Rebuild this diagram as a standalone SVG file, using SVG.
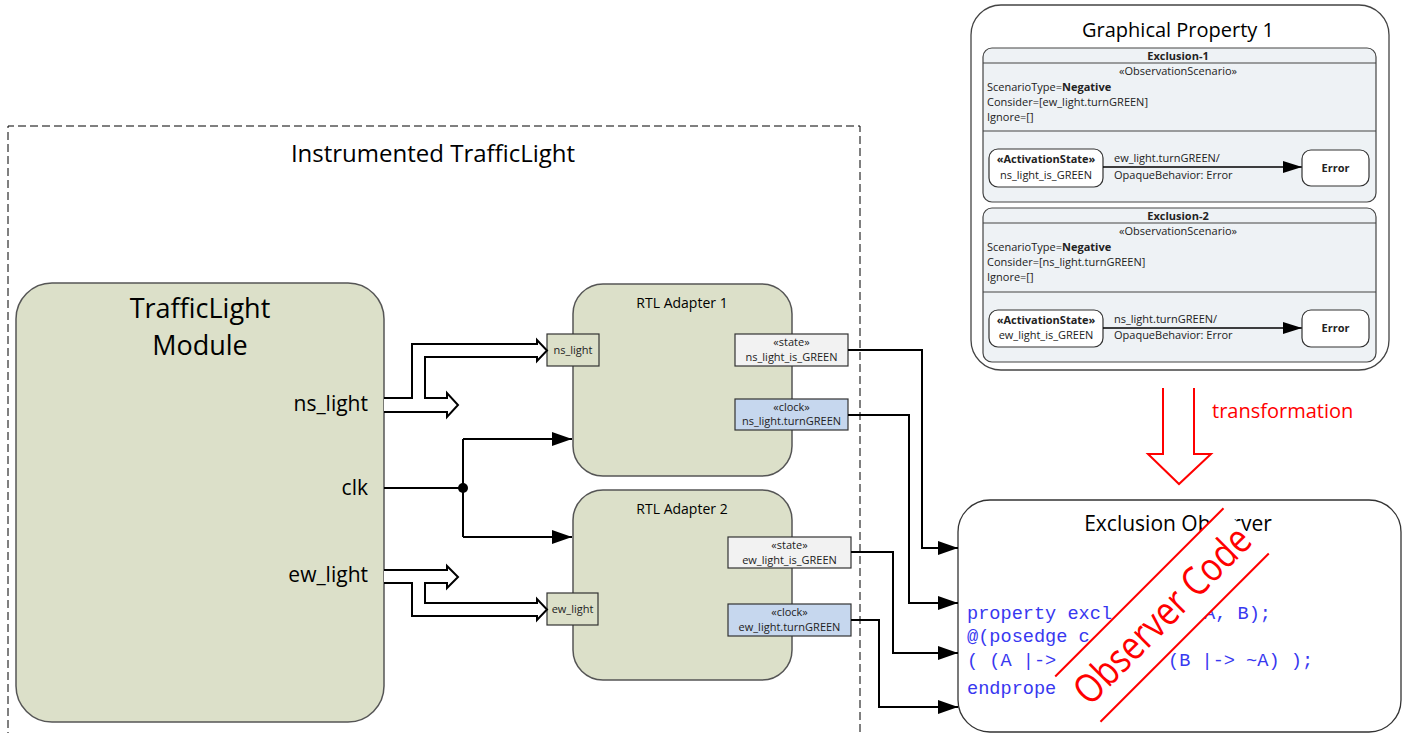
<svg xmlns="http://www.w3.org/2000/svg" width="1406" height="733" viewBox="0 0 1406 733">
<style>
text{font-family:"Open Sans","Noto Sans","DejaVu Sans",sans-serif;fill:#000}
.blk{fill:#DCE0C9;stroke:#555;stroke-width:1.5}
.port{stroke:#333;stroke-width:1.2}
.ps{font-size:11px;text-anchor:middle;fill:#222}
.wire{fill:none;stroke:#000;stroke-width:2}
.bus{fill:#fff;stroke:#000;stroke-width:2;stroke-linejoin:miter}
.sm{font-size:11px;fill:#222}
.code{font-family:"Liberation Mono","DejaVu Sans Mono",monospace;font-size:18.6px;fill:#3838F0}
.red{stroke:#F00;stroke-width:2;fill:none}
</style>
<defs>
<marker id="ah" markerUnits="userSpaceOnUse" markerWidth="22" markerHeight="16" refX="20" refY="7" orient="auto">
<path d="M0,0 L20,7 L0,14 z" fill="#000"/>
</marker>
<marker id="ahs" markerUnits="userSpaceOnUse" markerWidth="20" markerHeight="14" refX="19" refY="6" orient="auto">
<path d="M0,0 L19,6 L0,12 z" fill="#000"/>
</marker>
</defs>

<g id="instrumented">
<path d="M8,740 V126 H860 V740" fill="none" stroke="#000" stroke-width="1" stroke-dasharray="8,4"/>
<text x="433" y="162" font-size="24" text-anchor="middle">Instrumented TrafficLight</text>
</g>

<g id="module">
<rect class="blk" x="16" y="283" width="368" height="439" rx="36"/>
<text x="200" y="318" font-size="27" text-anchor="middle">TrafficLight</text>
<text x="200" y="355" font-size="27" text-anchor="middle">Module</text>
<text x="368" y="411" font-size="21" text-anchor="end">ns_light</text>
<text x="368" y="495" font-size="21" text-anchor="end">clk</text>
<text x="368" y="582" font-size="21" text-anchor="end">ew_light</text>
</g>

<g id="adapter1">
<rect class="blk" x="573" y="284" width="219" height="192" rx="30"/>
<text x="682" y="308" font-size="14" text-anchor="middle" fill="#333">RTL Adapter 1</text>
<rect class="port" x="547" y="334" width="52" height="32" fill="#DCE0C9"/>
<text class="ps" x="573" y="354">ns_light</text>
<rect class="port" x="735" y="334" width="113" height="32" fill="#F2F2F2"/>
<text class="ps" x="791.5" y="346">«state»</text>
<text class="ps" x="791.5" y="361">ns_light_is_GREEN</text>
<rect class="port" x="735" y="399" width="113" height="31" fill="#C6D7EE"/>
<text class="ps" x="791.5" y="411">«clock»</text>
<text class="ps" x="791.5" y="425">ns_light.turnGREEN</text>
</g>

<g id="adapter2">
<rect class="blk" x="573" y="490" width="219" height="190" rx="30"/>
<text x="682" y="514" font-size="14" text-anchor="middle" fill="#333">RTL Adapter 2</text>
<rect class="port" x="547" y="593" width="51" height="32" fill="#DCE0C9"/>
<text class="ps" x="572.5" y="613">ew_light</text>
<rect class="port" x="728" y="537" width="123" height="31" fill="#F2F2F2"/>
<text class="ps" x="789.5" y="549">«state»</text>
<text class="ps" x="789.5" y="564">ew_light_is_GREEN</text>
<rect class="port" x="728" y="604" width="123" height="32" fill="#C6D7EE"/>
<text class="ps" x="789.5" y="616">«clock»</text>
<text class="ps" x="789.5" y="631">ew_light.turnGREEN</text>
</g>

<g id="graphical-property">
<rect x="971" y="5" width="418" height="365" rx="30" fill="#fff" stroke="#444" stroke-width="1.3"/>
<text x="1178" y="37" font-size="20" text-anchor="middle">Graphical Property 1</text>
<g id="exclusion1">
<rect x="983" y="48" width="393" height="154" rx="9" fill="#EEF2F5" stroke="#444" stroke-width="1.2"/>
<line x1="983" y1="63" x2="1376" y2="63" stroke="#444" stroke-width="1.2"/>
<line x1="983" y1="131" x2="1376" y2="131" stroke="#444" stroke-width="1.2"/>
<text class="sm" x="1178" y="60" text-anchor="middle" font-weight="bold">Exclusion-1</text>
<text class="sm" x="1178" y="75" text-anchor="middle">«ObservationScenario»</text>
<text class="sm" x="987" y="91">ScenarioType=<tspan font-weight="bold">Negative</tspan></text>
<text class="sm" x="987" y="106">Consider=[ew_light.turnGREEN]</text>
<text class="sm" x="987" y="121">Ignore=[]</text>
<rect x="989" y="149" width="114" height="38" rx="9" fill="#fff" stroke="#333" stroke-width="1.2"/>
<text class="sm" x="1046" y="163" text-anchor="middle" font-weight="bold">«ActivationState»</text>
<text class="sm" x="1046" y="179" text-anchor="middle">ns_light_is_GREEN</text>
<line x1="1103" y1="167" x2="1302" y2="167" stroke="#000" stroke-width="1.5" marker-end="url(#ahs)"/>
<text class="sm" x="1114" y="162">ew_light.turnGREEN/</text>
<text class="sm" x="1114" y="179">OpaqueBehavior: Error</text>
<rect x="1302" y="150" width="67" height="36" rx="9" fill="#fff" stroke="#333" stroke-width="1.2"/>
<text class="sm" x="1335.5" y="172" text-anchor="middle" font-weight="bold">Error</text>
</g>
<g id="exclusion2">
<rect x="983" y="208" width="393" height="154" rx="9" fill="#EEF2F5" stroke="#444" stroke-width="1.2"/>
<line x1="983" y1="223" x2="1376" y2="223" stroke="#444" stroke-width="1.2"/>
<line x1="983" y1="292" x2="1376" y2="292" stroke="#444" stroke-width="1.2"/>
<text class="sm" x="1178" y="220" text-anchor="middle" font-weight="bold">Exclusion-2</text>
<text class="sm" x="1178" y="235" text-anchor="middle">«ObservationScenario»</text>
<text class="sm" x="987" y="251">ScenarioType=<tspan font-weight="bold">Negative</tspan></text>
<text class="sm" x="987" y="266">Consider=[ns_light.turnGREEN]</text>
<text class="sm" x="987" y="281">Ignore=[]</text>
<rect x="989" y="310" width="114" height="37" rx="9" fill="#fff" stroke="#333" stroke-width="1.2"/>
<text class="sm" x="1046" y="324" text-anchor="middle" font-weight="bold">«ActivationState»</text>
<text class="sm" x="1046" y="339" text-anchor="middle">ew_light_is_GREEN</text>
<line x1="1103" y1="328" x2="1302" y2="328" stroke="#000" stroke-width="1.5" marker-end="url(#ahs)"/>
<text class="sm" x="1114" y="323">ns_light.turnGREEN/</text>
<text class="sm" x="1114" y="339">OpaqueBehavior: Error</text>
<rect x="1302" y="310" width="67" height="37" rx="9" fill="#fff" stroke="#333" stroke-width="1.2"/>
<text class="sm" x="1335.5" y="332" text-anchor="middle" font-weight="bold">Error</text>
</g>
</g>

<g id="transformation">
<path class="red" d="M1163,388 V454 H1148 L1179,484 L1211,454 H1194 V388"/>
<text x="1212" y="418" font-size="20" style="fill:#F00">transformation</text>
</g>

<g id="observer">
<rect x="958" y="500" width="443" height="232" rx="32" fill="#fff" stroke="#333" stroke-width="1.3"/>
<text x="1178" y="531" font-size="21" text-anchor="middle">Exclusion Observer</text>
<text class="code" x="967" y="619" xml:space="preserve">property excl</text>
<text class="code" x="1204" y="619" xml:space="preserve">A, B);</text>
<text class="code" x="967" y="642" xml:space="preserve">@(posedge c</text>
<text class="code" x="967" y="666" xml:space="preserve">( (A |-></text>
<text class="code" x="1168" y="666" xml:space="preserve">(B |-> ~A) );</text>
<text class="code" x="967" y="694" xml:space="preserve">endprope</text>
<g transform="translate(1162,615) rotate(-45)">
<rect x="-119" y="-32" width="238" height="64" fill="#fff"/>
<line class="red" x1="-119" y1="-32" x2="119" y2="-32"/>
<line class="red" x1="-119" y1="32" x2="119" y2="32"/>
<text x="0" y="14" font-size="40" text-anchor="middle" style="fill:#F00" textLength="232" lengthAdjust="spacingAndGlyphs">Observer Code</text>
</g>
</g>

<g id="connectors">
<path class="bus" d="M384,398 H412 V344 H537 V340 L547,350.5 L537,361 V357 H425 V398 H447 V393 L458,405 L447,417 V412 H384"/>
<path class="bus" d="M384,570 H447 V566 L458,577 L447,588 V583 H425 V603 H537 V599 L547,609.5 L537,620 V616 H412 V583 H384"/>
<path class="wire" d="M384,488 H463"/>
<path class="wire" d="M463,439 V537"/>
<circle cx="463" cy="488" r="5" fill="#000"/>
<path class="wire" d="M463,439 H572" marker-end="url(#ah)"/>
<path class="wire" d="M463,537 H572" marker-end="url(#ah)"/>
<path class="wire" d="M848,350 H922 V548 H958" marker-end="url(#ah)"/>
<path class="wire" d="M848,415 H909 V603 H958" marker-end="url(#ah)"/>
<path class="wire" d="M851,552 H893 V653 H958" marker-end="url(#ah)"/>
<path class="wire" d="M851,620 H879 V707 H958" marker-end="url(#ah)"/>
</g>
</svg>
